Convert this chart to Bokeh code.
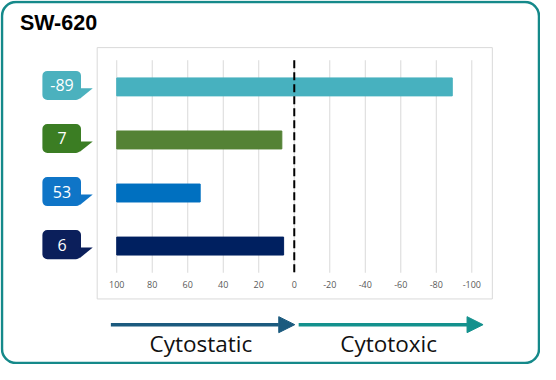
from bokeh.plotting import figure
from bokeh.models import Range1d, LinearAxis, FixedTicker, BoxAnnotation, Arrow, NormalHead, ColumnDataSource
from bokeh.embed import file_html
from bokeh.resources import INLINE
from bokeh.core.properties import value

# ---------------- data ----------------
title_text = "SW-620"
values = [-89, 7, 53, 6]
bar_colors = ["#47b1bf", "#548235", "#0070c0", "#002060"]
callout_colors = ["#4bb1be", "#3b7d23", "#0f75c7", "#0b1f5b"]
bar_base = 100
zero_line = 0
ticks = [100, 80, 60, 40, 20, 0, -20, -40, -60, -80, -100]
tick_labels = ["100", "80", "60", "40", "20", "0", "-20", "-40", "-60", "-80", "-100"]
zones = ["Cytostatic", "Cytotoxic"]
zone_colors = ["#1b5a7e", "#13918d"]

# ---------------- layout helpers (reference px -> figure px) ----------------
W, H = 540, 364
SX = 537 / 549
SY = 361 / 372


def fx(rx):
    return 1.5 + (rx - 2.7) * SX


def fy(ry):
    return 1.5 + (ry - 3.0) * SY


px_per_unit = (fx(483) - fx(120)) / 200.0


def xd(px):
    return 100 - (px - fx(120)) / px_per_unit


row_px = (fy(254.5) - fy(90.5)) / 3.0


def yd(py):
    return (py - fy(90.5)) / row_px


p = figure(width=W, height=H, x_range=Range1d(xd(0), xd(W)), y_range=Range1d(yd(H), yd(0)),
           x_axis_type=None, y_axis_type=None, toolbar_location=None, output_backend="svg",
           min_border=0, min_border_left=0, min_border_right=0, min_border_top=0, min_border_bottom=0)
p.outline_line_color = None
p.background_fill_color = "white"
p.border_fill_color = "white"
p.xgrid.visible = False
p.ygrid.visible = False

# outer rounded frame
p.add_layout(BoxAnnotation(left=xd(fx(2.7)), right=xd(fx(551.7)), top=yd(fy(3)), bottom=yd(fy(375)),
                           fill_color=None, line_color="#15898a", line_alpha=1, line_width=2.5,
                           border_radius=14, level="underlay"))
# chart area box
p.add_layout(BoxAnnotation(left=xd(fx(100)), right=xd(fx(504)), top=yd(fy(50)), bottom=yd(fy(309)),
                           fill_color=None, line_color="#d9d9d9", line_alpha=1, line_width=1,
                           level="underlay"))

# gridlines
p.segment(x0=ticks, x1=ticks, y0=yd(fy(63)), y1=yd(fy(282)), line_color="#d9d9d9", line_width=1)

# bars
idx = list(range(len(values)))
src = ColumnDataSource(dict(y=idx, right=values, left=[bar_base] * len(values), color=bar_colors,
                            ccolor=callout_colors, label=[str(v) for v in values]))
p.hbar(y="y", left="left", right="right", height=18.5 * SY / row_px, color="color", source=src)

# zero dashed line
p.segment(x0=zero_line, x1=zero_line, y0=yd(fy(63)), y1=yd(fy(283)), line_color="black",
          line_width=2, line_dash="8 4")

# axis tick labels
ax = LinearAxis(fixed_location=yd(fy(290)), ticker=FixedTicker(ticks=ticks),
                major_label_overrides=dict(zip(ticks, tick_labels)),
                axis_line_color=None, major_tick_line_color=None, minor_tick_line_color=None,
                major_tick_out=0, major_tick_in=0, minor_tick_out=0, major_label_standoff=0,
                major_label_text_font_size="9px", major_label_text_color="#595959",
                major_label_text_font="Open Sans")
p.add_layout(ax, "below")

# callouts
off = -1.5 * SY / row_px
half = 15 * SY / row_px
for i, c in zip(idx, callout_colors):
    p.add_layout(BoxAnnotation(left=xd(fx(44)), right=xd(fx(83.5)), top=i + off - half,
                               bottom=i + off + half, fill_color=c, fill_alpha=1, line_color=None,
                               border_radius=5, level="underlay"))
tri_x = [[xd(fx(82)), xd(fx(95.5)), xd(fx(82))] for _ in idx]
tri_y = [[i + off + 3 * SY / row_px, i + off + 3 * SY / row_px, i + off + 14 * SY / row_px] for i in idx]
p.patches(xs=tri_x, ys=tri_y, fill_color=callout_colors, line_color=None)
p.text(x=xd(fx(64)), y="y", text="label", source=src, text_align="center", text_baseline="middle",
       text_color="white", text_font=value("Open Sans"), text_font_size="16px", y_offset=-1.5)

# title
p.text(x=[xd(fx(21))], y=[yd(fy(24.5))], text=[title_text], text_align="left", text_baseline="middle",
       text_color="black", text_font=value("Liberation Sans"), text_font_style="bold",
       text_font_size="21.5px")

# arrows
ay = yd(fy(335.5))
arrow_x = [(fx(114), fx(302)), (fx(306), fx(494.5))]
for (a, b), c in zip(arrow_x, zone_colors):
    p.add_layout(Arrow(x_start=xd(a), y_start=ay, x_end=xd(b), y_end=ay, line_color=c, line_width=3.5,
                       end=NormalHead(size=16, fill_color=c, line_color=c, line_width=1)))

p.text(x=[xd(fx(206)), xd(fx(398))], y=[yd(fy(354.5))] * 2, text=zones, text_align="center",
       text_baseline="middle", text_color="#111111", text_font=value("Open Sans"),
       text_font_size="22.5px")

open("out.html", "w").write(file_html(p, INLINE))
